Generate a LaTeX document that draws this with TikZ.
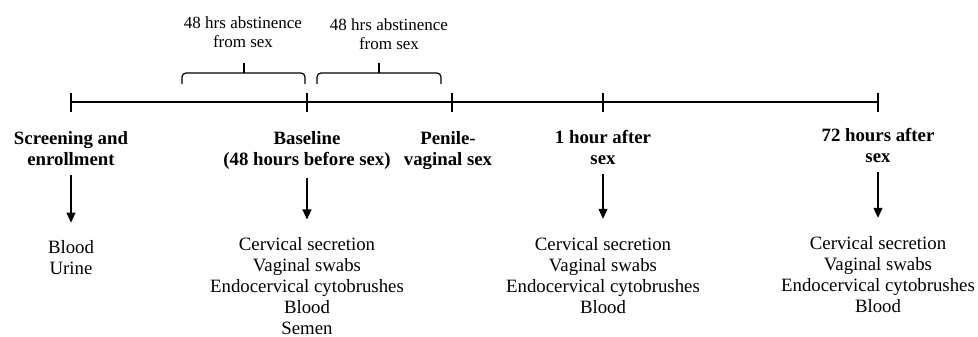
\documentclass[tikz,border=0pt]{standalone}
\usepackage{fontspec}
\setmainfont{Liberation Serif}
\usetikzlibrary{arrows.meta, positioning}

\begin{document}
\begin{tikzpicture}[x=1pt, y=-1pt, node distance=29pt,
    phase/.style={align=center, inner sep=0pt, anchor=north, font=\fontsize{18.8}{21}\selectfont\bfseries},
    sample/.style={align=center, inner sep=0pt, anchor=north, font=\fontsize{18.8}{21}\selectfont},
    gapnote/.style={align=center, inner sep=0pt, anchor=north, font=\fontsize{17}{19}\selectfont},
    axis/.style={draw=black, line width=1.5pt},
    tickmark/.style={draw=black, line width=1.3pt},
    bracemark/.style={draw=black, line width=1.2pt, rounded corners=4pt},
    arr/.style={draw=black, line width=1.3pt, -{Triangle[length=10pt, width=9pt]}, shorten <=9pt, shorten >=18pt}
]
    \useasboundingbox (0,0) rectangle (978,337);

    % Timeline and tick marks
    \coordinate (t1) at (71,102);
    \coordinate (t2) at (307,102);
    \coordinate (t3) at (452,102);
    \coordinate (t4) at (603,102);
    \coordinate (t5) at (878,102);
    \draw [axis] (t1) -- (t5);
    \foreach \i in {1,...,5}
        \draw [tickmark] ([yshift=9pt]t\i) -- ([yshift=-10pt]t\i);

    % Abstinence braces
    \coordinate (b1l) at (182,84);
    \coordinate (b1r) at (305,84);
    \coordinate (b1t) at (244,73);
    \coordinate (b2l) at (317,84);
    \coordinate (b2r) at (441,84);
    \coordinate (b2t) at (379,73);
    \draw [bracemark] (b1l) -- ++(0,-11) -| (b1r);
    \draw [bracemark] (b1t) -- ++(0,-10);
    \draw [bracemark] (b2l) -- ++(0,-11) -| (b2r);
    \draw [bracemark] (b2t) -- ++(0,-10);
    \node (abst1) [gapnote] at (243,17) {48 hrs abstinence\\from sex};
    \node (abst2) [gapnote] at (389,19) {48 hrs abstinence\\from sex};

    % Time points
    \node (screen) [phase, below=29pt of t1] {Screening and\\enrollment};
    \node (base) [phase, below=29pt of t2] {Baseline\\(48 hours before sex)};
    \node (penile) [phase, below=29pt of t3, xshift=-4pt] {Penile-\\vaginal sex};
    \node (onehr) [phase, below=28pt of t4] {1 hour after\\sex};
    \node (sevtwo) [phase, below=26pt of t5] {72 hours after\\sex};

    % Samples collected
    \node (screenlist) [sample, below=75pt of screen] {Blood\\Urine};
    \node (baselist) [sample, below=68pt of base] {Cervical secretion\\Vaginal swabs\\Endocervical cytobrushes\\Blood\\Semen};
    \node (onehrlist) [sample, below=72pt of onehr] {Cervical secretion\\Vaginal swabs\\Endocervical cytobrushes\\Blood};
    \node (sevtwolist) [sample, below=73pt of sevtwo] {Cervical secretion\\Vaginal swabs\\Endocervical cytobrushes\\Blood};

    % Arrows
    \draw [arr] (screen) -- (screenlist);
    \draw [arr] (base) -- (baselist);
    \draw [arr] (onehr) -- (onehrlist);
    \draw [arr] (sevtwo) -- (sevtwolist);
\end{tikzpicture}
\end{document}
